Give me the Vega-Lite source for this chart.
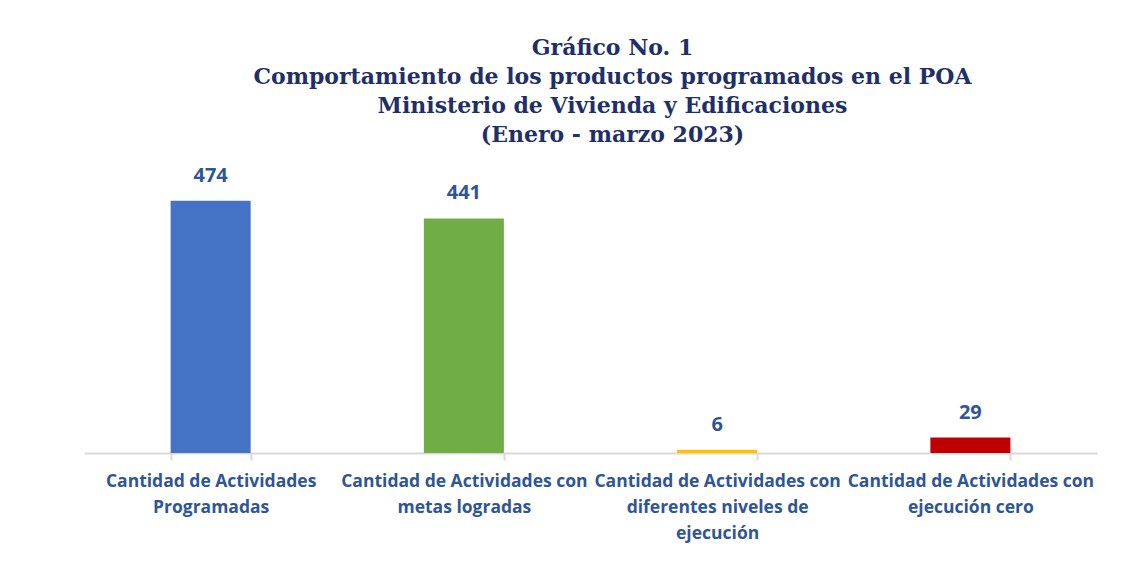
{
  "$schema": "https://vega.github.io/schema/vega-lite/v6.json",
  "autosize": "none",
  "width": 1013,
  "height": 266,
  "padding": {"left": 84, "top": 187, "right": 41, "bottom": 135},
  "background": "white",
  "title": {
    "text": ["Gráfico No. 1", "Comportamiento de los productos programados en el POA", "Ministerio de Vivienda y Edificaciones", "(Enero - marzo 2023)"],
    "font": "DejaVu Serif",
    "fontSize": 22,
    "fontWeight": "bold",
    "color": "#1F3068",
    "lineHeight": 29,
    "anchor": "middle",
    "dx": 22,
    "offset": 19
  },
  "data": {
    "values": [
      {"categoria": "Cantidad de Actividades Programadas", "cantidad": 474, "color": "#4472C4"},
      {"categoria": "Cantidad de Actividades con metas logradas", "cantidad": 441, "color": "#70AD47"},
      {"categoria": "Cantidad de Actividades con diferentes niveles de ejecución", "cantidad": 6, "color": "#FFC000"},
      {"categoria": "Cantidad de Actividades con ejecución cero", "cantidad": 29, "color": "#C00000"}
    ]
  },
  "encoding": {
    "x": {
      "field": "categoria",
      "type": "nominal",
      "sort": null,
      "scale": {"paddingInner": 0.684, "paddingOuter": 0.342},
      "axis": {
        "title": null,
        "labelAngle": 0,
        "labelFont": "Open Sans",
        "labelFontSize": 17.5,
        "labelFontWeight": "bold",
        "labelColor": "#2F5597",
        "labelLimit": 400,
        "labelOverlap": false,
        "labelLineHeight": 26,
        "labelPadding": 12,
        "labelBaseline": "top",
        "labelExpr": "datum.value == 'Cantidad de Actividades Programadas' ? ['Cantidad de Actividades', 'Programadas'] : datum.value == 'Cantidad de Actividades con metas logradas' ? ['Cantidad de Actividades con', 'metas logradas'] : datum.value == 'Cantidad de Actividades con diferentes niveles de ejecución' ? ['Cantidad de Actividades con', 'diferentes niveles de', 'ejecución'] : datum.value == 'Cantidad de Actividades con ejecución cero' ? ['Cantidad de Actividades con', 'ejecución cero'] : ''",
        "domainColor": "#D9D9D9",
        "domainWidth": 2,
        "tickColor": "#D9D9D9",
        "tickWidth": 2,
        "tickSize": 7,
        "tickBand": "extent"
      }
    },
    "y": {
      "field": "cantidad",
      "type": "quantitative",
      "scale": {"domain": [0, 500]},
      "axis": null
    }
  },
  "layer": [
    {
      "mark": {"type": "bar"},
      "encoding": {
        "color": {"field": "color", "type": "nominal", "scale": null}
      }
    },
    {
      "mark": {"type": "text", "baseline": "alphabetic", "dy": -19, "font": "Open Sans", "fontSize": 20, "fontWeight": "bold", "color": "#2F5597"},
      "encoding": {
        "text": {"field": "cantidad", "type": "quantitative"}
      }
    }
  ],
  "config": {
    "view": {"stroke": null},
    "axis": {"grid": false}
  }
}
